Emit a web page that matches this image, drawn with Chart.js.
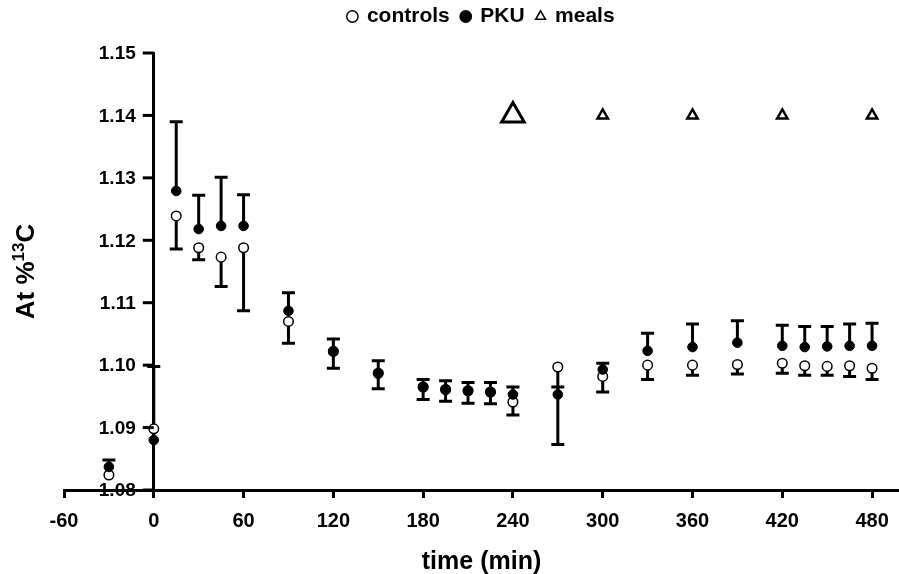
<!DOCTYPE html>
<html>
<head>
<meta charset="utf-8">
<script src="https://cdn.jsdelivr.net/npm/chart.js@4"></script>
<style>
  html, body { margin: 0; padding: 0; background: #fff; }
  #wrap { width: 899px; height: 574px; position: relative; }
</style>
</head>
<body>
<div id="wrap"><canvas id="chart"></canvas></div>
<script>
// 13C enrichment over time — controls vs PKU, meals marked with triangles

const times      = [-30, 0, 15, 30, 45, 60, 90, 120, 150, 180, 195, 210, 225, 240, 270, 300, 330, 360, 390, 420, 435, 450, 465, 480];
const controls   = [1.0824, 1.0898, 1.1239, 1.1188, 1.1173, 1.1188, 1.1070, 1.1022, 1.0987, 1.0965, 1.0961, 1.0959, 1.0957, 1.0941, 1.0997, 1.0982, 1.1000, 1.1000, 1.1001, 1.1003, 1.0999, 1.0998, 1.0999, 1.0995];
const controlsSD = [0, 0, 0.0053, 0.0019, 0.0047, 0.0101, 0.0035, 0.0027, 0.0025, 0.0020, 0.0019, 0.0020, 0.0019, 0.0021, 0.0124, 0.0025, 0.0023, 0.0016, 0.0015, 0.0016, 0.0015, 0.0014, 0.0017, 0.0018];
const pku        = [1.0837, 1.0880, 1.1279, 1.1218, 1.1223, 1.1223, 1.1087, 1.1022, 1.0987, 1.0965, 1.0961, 1.0959, 1.0957, 1.0953, 1.0953, 1.0993, 1.1023, 1.1029, 1.1036, 1.1031, 1.1029, 1.1030, 1.1031, 1.1031];
const pkuSD      = [0.0011, 0.0118, 0.0111, 0.0054, 0.0078, 0.0050, 0.0029, 0.0020, 0.0020, 0.0012, 0.0014, 0.0013, 0.0015, 0.0012, 0.0012, 0.0010, 0.0028, 0.0037, 0.0035, 0.0033, 0.0033, 0.0032, 0.0035, 0.0036];

const mealTimes = [240, 300, 360, 420, 480];
const mealLevel = [1.14, 1.14, 1.14, 1.14, 1.14];
const mealSize  = [13, 6, 6, 6, 6];

const xTicks = [-60, 0, 60, 120, 180, 240, 300, 360, 420, 480];
const yTicks = [1.08, 1.09, 1.10, 1.11, 1.12, 1.13, 1.14, 1.15];

const FONT = '"Liberation Sans", Arial, sans-serif';

const pts = (xs, ys) => xs.map((x, i) => ({ x, y: ys[i] }));

// error bars: controls drawn downward, PKU upward
const errorBars = {
    id: 'errorBars',
    beforeDatasetsDraw(chart) {
        const { ctx, scales: { x, y } } = chart;
        const bars = [
            { vals: controls, sd: controlsSD, dir: -1 },
            { vals: pku, sd: pkuSD, dir: 1 },
        ];
        ctx.save();
        ctx.strokeStyle = '#000';
        ctx.lineWidth = 3;
        bars.forEach(b => {
            times.forEach((t, i) => {
                if (!b.sd[i]) return;
                const px = x.getPixelForValue(t);
                const p0 = y.getPixelForValue(b.vals[i]);
                const p1 = y.getPixelForValue(b.vals[i] + b.dir * b.sd[i]);
                ctx.beginPath();
                ctx.moveTo(px, p0);
                ctx.lineTo(px, p1);
                ctx.moveTo(px - 6.5, p1);
                ctx.lineTo(px + 6.5, p1);
                ctx.stroke();
            });
        });
        ctx.restore();
    }
};

// y ticks + labels sit left of the axis that crosses at x = 0
const yLabels = {
    id: 'yLabels',
    afterDraw(chart) {
        const { ctx, scales: { x, y } } = chart;
        const ax = x.getPixelForValue(0);
        ctx.save();
        ctx.strokeStyle = '#000';
        ctx.lineWidth = 3;
        yTicks.forEach(v => {
            const py = y.getPixelForValue(v);
            ctx.beginPath();
            ctx.moveTo(ax - 11, py);
            ctx.lineTo(ax, py);
            ctx.stroke();
        });
        ctx.fillStyle = '#000';
        ctx.font = 'bold 19px ' + FONT;
        ctx.textAlign = 'right';
        ctx.textBaseline = 'middle';
        yTicks.forEach(v => ctx.fillText(v.toFixed(2), ax - 18, y.getPixelForValue(v) + 1));
        ctx.restore();
    }
};

// rotated y title with superscript 13
const yTitle = {
    id: 'yTitle',
    afterDraw(chart) {
        const { ctx, chartArea } = chart;
        const big = 'bold 26px ' + FONT, small = 'bold 17px ' + FONT;
        ctx.save();
        ctx.translate(25, (chartArea.top + chartArea.bottom) / 2);
        ctx.rotate(-Math.PI / 2);
        ctx.fillStyle = '#000';
        ctx.textBaseline = 'alphabetic';
        ctx.textAlign = 'left';
        ctx.font = big;
        const w1 = ctx.measureText('At %').width, w3 = ctx.measureText('C').width;
        ctx.font = small;
        const w2 = ctx.measureText('13').width;
        let cx = -(w1 + w2 + w3) / 2;
        ctx.font = big;
        ctx.fillText('At %', cx, 9);
        cx += w1;
        ctx.font = small;
        ctx.fillText('13', cx, -1);
        cx += w2;
        ctx.font = big;
        ctx.fillText('C', cx, 9);
        ctx.restore();
    }
};

// extra room under the legend
const legendGap = {
    id: 'legendGap',
    beforeInit(chart) {
        const fit = chart.legend.fit;
        chart.legend.fit = function () {
            fit.bind(chart.legend)();
            this.height += 16;
        };
    }
};

new Chart(document.getElementById('chart'), {
    type: 'scatter',
    data: {
        datasets: [
            { label: 'controls', data: pts(times, controls), order: 2,
              pointRadius: 4.8, pointBackgroundColor: '#fff', pointBorderColor: '#000', pointBorderWidth: 1.5,
              backgroundColor: '#fff', borderColor: '#000' },
            { label: 'PKU', data: pts(times, pku), order: 1,
              pointRadius: 4.8, pointBackgroundColor: '#000', pointBorderColor: '#000', pointBorderWidth: 1,
              backgroundColor: '#000', borderColor: '#000' },
            { label: 'meals', data: pts(mealTimes, mealLevel), order: 0,
              pointStyle: 'triangle', pointRadius: mealSize, pointBorderWidth: [3, 2.5, 2.5, 2.5, 2.5],
              pointBackgroundColor: '#fff', pointBorderColor: '#000',
              backgroundColor: '#fff', borderColor: '#000' },
        ]
    },
    options: {
        responsive: true,
        maintainAspectRatio: false,
        animation: false,
        clip: false,
        layout: { autoPadding: false, padding: { left: 64, right: 0, top: -6, bottom: 0 } },
        scales: {
            x: {
                type: 'linear', min: -60, max: 498,
                afterBuildTicks: s => { s.ticks = xTicks.map(v => ({ value: v })); },
                afterFit: s => { s.paddingRight = 0; },
                ticks: { color: '#000', font: { family: FONT, size: 20, weight: 'bold' }, padding: 11, maxRotation: 0 },
                grid: { drawOnChartArea: false, tickLength: 8, tickWidth: 3, color: '#000' },
                border: { color: '#000', width: 3 },
                title: { display: true, text: 'time (min)', color: '#000',
                         font: { family: FONT, size: 25, weight: 'bold' }, padding: { top: 3, bottom: -3 } },
            },
            y: {
                type: 'linear', min: 1.08, max: 1.15, position: { x: 0 },
                afterBuildTicks: s => { s.ticks = yTicks.map(v => ({ value: v })); },
                ticks: { color: 'rgba(0,0,0,0)' },
                grid: { display: false },
                border: { color: '#000', width: 3 },
            }
        },
        plugins: {
            legend: {
                position: 'top',
                labels: {
                    usePointStyle: true, boxHeight: 8, boxWidth: 8, color: '#000', padding: 12,
                    font: { family: FONT, size: 21, weight: 'bold' },
                    sort: (a, b) => a.datasetIndex - b.datasetIndex,
                    generateLabels: chart => Chart.defaults.plugins.legend.labels.generateLabels(chart)
                        .map(l => ({ ...l, lineWidth: 1.5 })),
                }
            },
            tooltip: { enabled: false },
        }
    },
    plugins: [errorBars, yLabels, yTitle, legendGap]
});
</script>
</body>
</html>
